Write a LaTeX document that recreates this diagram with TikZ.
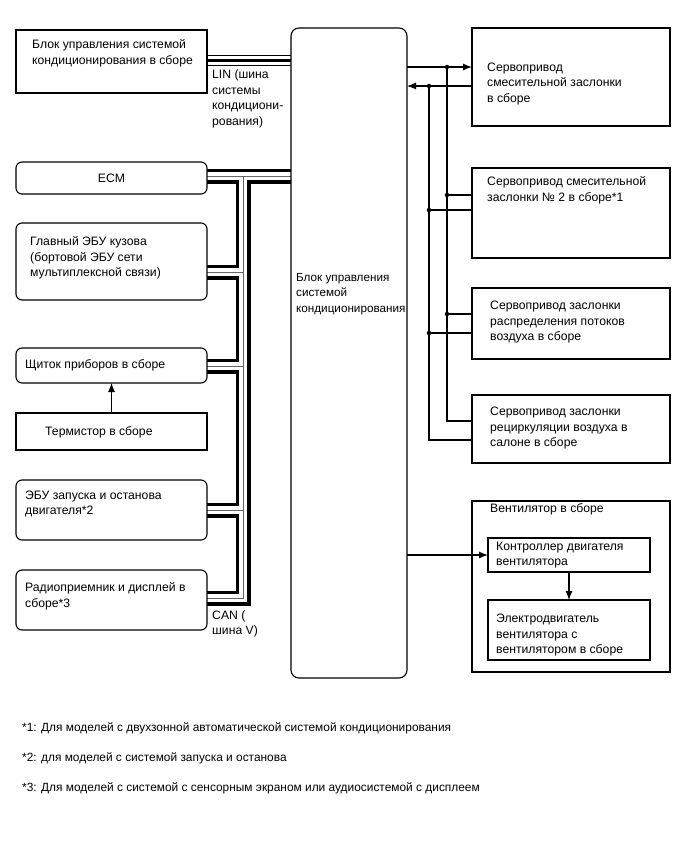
\documentclass[tikz,border=0pt]{standalone}
\usepackage{fontspec}
\setmainfont{Liberation Sans}
\usetikzlibrary{arrows.meta,backgrounds}
\begin{document}
\begin{tikzpicture}[x=1pt,y=-1pt,
  box/.style={draw, line width=1.1pt, fill=white, anchor=north west, inner sep=0pt, outer sep=0pt},
  rbox/.style={box, rounded corners=6pt},
  txt/.style={anchor=west, align=left, inner sep=0pt, font=\fontsize{12.2}{15.5}\selectfont},
  note/.style={anchor=west, inner sep=0pt, font=\fontsize{11.9}{14}\selectfont},
  conn/.style={line width=1.1pt},
  arr/.style={conn, -{Latex[length=9pt,width=7pt]}},
  dot/.style={circle, fill, inner sep=0pt, minimum size=4.5pt},
  can/.style={line width=15pt, line join=miter, postaction={draw=white, line width=8.5pt}, postaction={draw=black!60, line width=1pt}},
  lin/.style={line width=11pt, postaction={draw=white, line width=9pt}, postaction={draw=black, line width=3pt}}]
\useasboundingbox (0,0) rectangle (688,852);

% left column
\node[box, minimum width=191pt, minimum height=63pt] (b1) at (16,30) {};
\node[rbox, minimum width=191pt, minimum height=32pt] (ecm) at (16,162) {};
\node[rbox, minimum width=191pt, minimum height=77pt] (bcm) at (16,223) {};
\node[rbox, minimum width=191pt, minimum height=35pt] (cmb) at (16,348) {};
\node[box, minimum width=191pt, minimum height=37pt] (thr) at (16,413) {};
\node[rbox, minimum width=191pt, minimum height=60pt] (eng) at (16,480) {};
\node[rbox, minimum width=191pt, minimum height=60pt] (rad) at (16,570) {};

% central block
\node[box, rounded corners=8pt, minimum width=116pt, minimum height=650pt] (blk) at (291,28) {};

% right column
\node[box, minimum width=198pt, minimum height=98pt] (r1) at (472,28) {};
\node[box, minimum width=198pt, minimum height=90pt] (r2) at (472,168) {};
\node[box, minimum width=198pt, minimum height=71pt] (r3) at (472,288) {};
\node[box, minimum width=198pt, minimum height=68pt] (r4) at (472,395) {};
\node[box, minimum width=198pt, minimum height=171pt] (fan) at (472,501) {};
\node[box, minimum width=162pt, minimum height=34pt] (fc) at (488,538) {};
\node[box, minimum width=162pt, minimum height=60pt] (fm) at (488,600) {};

% texts
\node[txt] (t1) at (32,53) {Блок управления системой\\кондиционирования в сборе};
\node[txt, anchor=center] (tecm) at (ecm.center) {ECM};
\node[txt] (tbcm) at (30,258) {Главный ЭБУ кузова\\(бортовой ЭБУ сети\\мультиплексной связи)};
\node[txt] (tcmb) at (25,365) {Щиток приборов в сборе};
\node[txt] (tthr) at (45,432) {Термистор в сборе};
\node[txt] (teng) at (25,504) {ЭБУ запуска и останова\\двигателя*2};
\node[txt] (trad) at (25,596) {Радиоприемник и дисплей в\\сборе*3};
\node[txt, font=\fontsize{11.7}{15.5}\selectfont] (tblk) at (296,294) {Блок управления\\системой\\кондиционирования};
\node[txt] (tlin) at (212,99) {LIN (шина\\системы\\кондициони-\\рования)};
\node[txt] (tcan) at (212,624) {CAN (\\шина V)};
\node[txt] (tr1) at (487,84) {Сервопривод\\смесительной заслонки\\в сборе};
\node[txt] (tr2) at (487,190) {Сервопривод смесительной\\заслонки № 2 в сборе*1};
\node[txt] (tr3) at (490,322) {Сервопривод заслонки\\распределения потоков\\воздуха в сборе};
\node[txt] (tr4) at (490,428) {Сервопривод заслонки\\рециркуляции воздуха в\\салоне в сборе};
\node[txt] (tfan) at (490,509) {Вентилятор в сборе};
\node[txt] (tfc) at (496,555) {Контроллер двигателя\\вентилятора};
\node[txt] (tfm) at (496,635) {Электродвигатель\\вентилятора с\\вентилятором в сборе};

\node[note] (n1) at (22,728) {*1: Для моделей с двухзонной автоматической системой кондиционирования};
\node[note] (n2) at (22,758) {*2: для моделей с системой запуска и останова};
\node[note] (n3) at (22,788) {*3: Для моделей с системой с сенсорным экраном или аудиосистемой с дисплеем};

% buses
\begin{scope}[on background layer]
\draw[lin] (b1.east |- 0,60) -- (blk.west |- 0,60);
\draw[can] (ecm.east |- 0,176) -- (blk.west |- 0,176)
  (243,176) -- (243,598) -- (rad.east |- 0,598)
  (243,272) -- (bcm.east |- 0,272)
  (243,366) -- (cmb.east |- 0,366)
  (243,510) -- (eng.east |- 0,510);
\end{scope}

% right connectors
\coordinate (j1) at (447,67);
\coordinate (j2) at (429,86);
\coordinate (j3) at (447,195);
\coordinate (j4) at (429,210);
\coordinate (j5) at (447,314);
\coordinate (j6) at (429,333);
\coordinate (k1) at (447,421);
\coordinate (k2) at (429,440);
\draw[arr] (blk.east |- j1) -- (r1.west |- j1);
\draw[arr] (r1.west |- j2) -- (blk.east |- j2);
\draw[conn] (j1) -- (k1) -- (r4.west |- k1);
\draw[conn] (j2) -- (k2) -- (r4.west |- k2);
\draw[conn] (j3) -- (r2.west |- j3);
\draw[conn] (j4) -- (r2.west |- j4);
\draw[conn] (j5) -- (r3.west |- j5);
\draw[conn] (j6) -- (r3.west |- j6);
\foreach \j in {j1,j2,j3,j4,j5,j6} \node[dot] (d\j) at (\j) {};

\draw[arr] (blk.east |- fc.west) -- (fc.west);
\draw[arr] (fc.south) -- (fm.north);
\draw[arr] (thr.north) -- (cmb.south);
\end{tikzpicture}
\end{document}
